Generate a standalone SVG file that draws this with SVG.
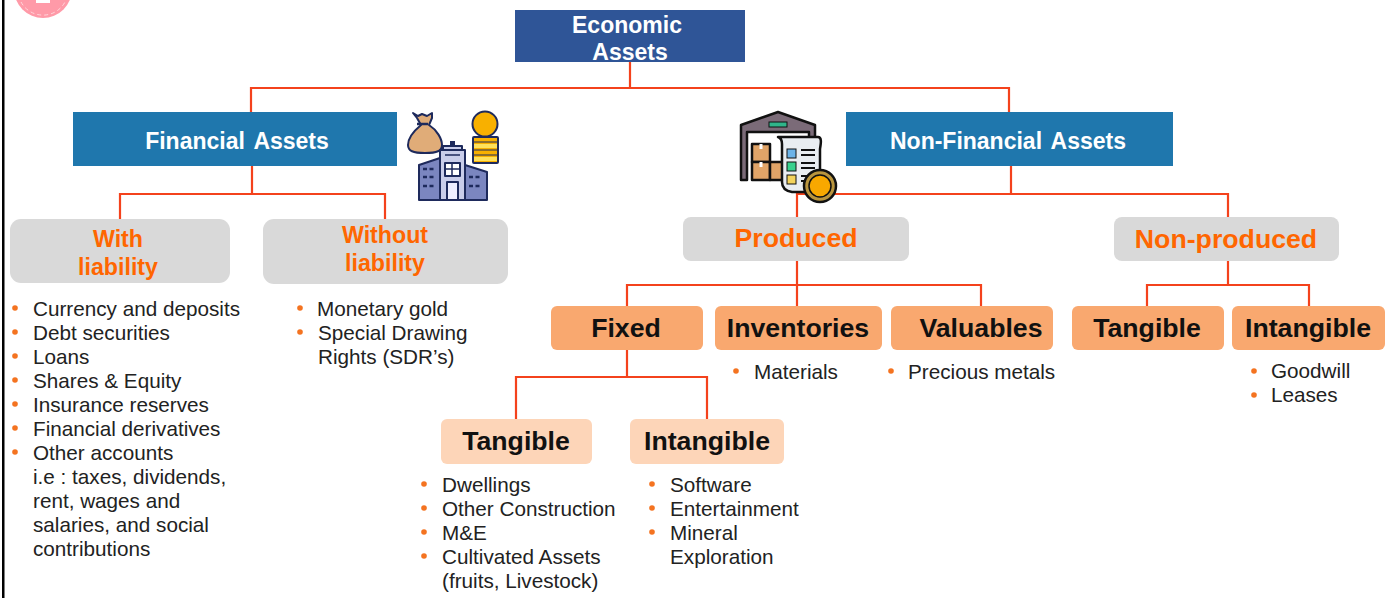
<svg xmlns="http://www.w3.org/2000/svg" width="1385" height="598" viewBox="0 0 1385 598">
<style>
text{font-family:"Liberation Sans",Arial,sans-serif}
.c{fill:none;stroke:#f4421c;stroke-width:2.2}
.t{text-anchor:middle;font-weight:bold}
.w{fill:#fff;font-size:23px}
.o{fill:#ff6600;font-size:23.2px}
.o2{fill:#ff6600;font-size:26.7px}
.k{fill:#111;font-size:26.7px}
.b{fill:#222;font-size:20.7px}
.d{fill:#f47320}
.g{fill:#d9d9d9}
.p{fill:#f9a86f}
.q{fill:#fdd5b8}
.ic{stroke:#1e2a5c;stroke-width:2;stroke-linejoin:round}
.ik{stroke:#111;stroke-width:2.5;stroke-linejoin:round}
</style>
<defs><circle id="d" r="2.8" class="d"/></defs>
<rect x="0" y="0" width="1385" height="598" fill="#fff"/>
<rect x="2" y="0" width="2.5" height="598" fill="#000"/>
<g id="badge"><circle cx="43" cy="-11" r="29" fill="#ff9aa8"/><path d="M21 2A25 25 0 0 0 65 2" fill="none" stroke="#ffd5da" stroke-width="1" stroke-dasharray="4 3"/><rect x="36" y="-4" width="14" height="7" fill="#fff"/></g>
<g id="connectors">
<path class="c" d="M630 62V88M251 112V88H1009V112"/>
<path class="c" d="M252 166V194M120 219V194H385V219"/>
<path class="c" d="M1011 166V194M797 217V194H1228V217"/>
<path class="c" d="M797 261V285M627 306V285H981V306M797 285V306"/>
<path class="c" d="M1228 261V285M1147 306V285H1309V306"/>
<path class="c" d="M627 350V377M516 419V377H707V419"/>
</g>
<g id="economic"><rect x="515" y="10" width="230" height="52" fill="#2f5597"/><text class="t w" x="627" y="33">Economic</text><text class="t w" x="630" y="60">Assets</text></g>
<g id="financial"><rect x="73" y="112" width="324" height="54" fill="#1f77ad"/><text class="t w" x="237" y="148.5" word-spacing="3">Financial Assets</text></g>
<g id="icon-financial">
<path class="ic" fill="#e0ac78" d="M413 113l5 3 4-2 5 2 5-3 0 5-3 7c8 5 13 14 13 20 0 6-5 8-17 8s-17-2-17-8c0-7 7-15 13-20l-4-7z"/>
<path stroke="#1e2a5c" stroke-width="2.5" d="M417 124h11"/>
<circle class="ic" cx="485" cy="124" r="12.5" fill="#f8b000"/>
<rect class="ic" x="473" y="137" width="25" height="26" rx="1" fill="#f8b000"/>
<path d="M474 146h23M474 159h23" stroke="#ffe15c" stroke-width="4"/>
<path stroke="#1e2a5c" d="M474 142h23M474 150h23M474 155h23"/>
<path class="ic" fill="#7b86c0" d="M419 165l21-7v42h-21zM465 165l22 7v28h-22z"/>
<rect class="ic" x="440" y="150" width="25" height="50" fill="#c9cdea"/>
<rect class="ic" x="443" y="146" width="19" height="4" fill="#c9cdea"/>
<rect x="450" y="141" width="5" height="5" fill="#1e2a5c"/>
<rect class="ic" x="445" y="163" width="15" height="13" fill="#fff"/>
<path stroke="#1e2a5c" stroke-width="1.5" d="M452 163v13M445 169h15M445 155h15"/>
<rect class="ic" x="447" y="182" width="11" height="18" fill="#eef"/>
<path stroke="#1e2a5c" stroke-width="2.5" stroke-dasharray="4 2.5" d="M423 169h13M423 177h13M423 186h13M469 177h13M469 186h13"/>
</g>
<g id="nonfinancial"><rect x="846" y="112" width="327" height="54" fill="#1f77ad"/><text class="t w" x="1008" y="148.5" word-spacing="3">Non-Financial Assets</text></g>
<g id="icon-nonfinancial">
<path class="ik" fill="#7b6b78" d="M741 125l37-13 37 13v55h-6V132h-62v48h-6z"/>
<rect x="769" y="122" width="18" height="5" fill="#2fb58a" stroke="#111"/>
<rect class="ik" x="752" y="144" width="18" height="18" fill="#e0a468"/>
<rect class="ik" x="752" y="162" width="18" height="18" fill="#e0a468"/>
<rect class="ik" x="770" y="162" width="16" height="18" fill="#e0a468"/>
<path stroke="#fff" stroke-width="3" d="M761 144v5M761 162v5"/>
<path class="ik" fill="#e9edf1" d="M778 137h40c4 0 3 6 2 12v35c0 4-3 6-8 8h-20c-6-1-10-4-10-10v-38c0-4-1-6-4-7z"/>
<rect x="787" y="149" width="9" height="9" fill="#6cb3e8" stroke="#111"/><rect x="787" y="162" width="9" height="9" fill="#38d18e" stroke="#111"/><rect x="787" y="175" width="9" height="9" fill="#f3d35c" stroke="#111"/>
<path stroke="#111" stroke-width="2" d="M801 150h14M801 155h14M801 163h14M801 168h14M801 176h6M801 181h6"/>
<circle cx="820" cy="186" r="16" fill="#b9953e" stroke="#111" stroke-width="2.5"/><circle cx="820" cy="186" r="11" fill="#f8a800" stroke="#111" stroke-width="1.5"/>
</g>
<g id="with"><rect class="g" x="10" y="219" width="220" height="64" rx="11"/><text class="t o" x="118" y="247">With</text><text class="t o" x="118" y="275">liability</text></g>
<g id="without"><rect class="g" x="263" y="219" width="245" height="65" rx="11"/><text class="t o" x="385" y="243">Without</text><text class="t o" x="385" y="271">liability</text></g>
<g id="produced"><rect class="g" x="683" y="217" width="226" height="44" rx="8"/><text class="t o2" x="796" y="247">Produced</text></g>
<g id="nonproduced"><rect class="g" x="1114" y="217" width="225" height="44" rx="8"/><text class="t o2" x="1226" y="248">Non-produced</text></g>
<g id="fixed"><rect class="p" x="551" y="306" width="152" height="44" rx="6"/><text class="t k" x="626" y="337">Fixed</text></g>
<g id="inventories"><rect class="p" x="715" y="306" width="167" height="44" rx="6"/><text class="t k" x="798" y="337">Inventories</text></g>
<g id="valuables"><rect class="p" x="891" y="306" width="162" height="44" rx="6"/><text class="t k" x="981" y="337">Valuables</text></g>
<g id="tangible-np"><rect class="p" x="1072" y="306" width="152" height="44" rx="6"/><text class="t k" x="1147" y="337">Tangible</text></g>
<g id="intangible-np"><rect class="p" x="1232" y="306" width="153" height="44" rx="6"/><text class="t k" x="1308" y="337">Intangible</text></g>
<g id="tangible-f"><rect class="q" x="441" y="419" width="151" height="45" rx="6"/><text class="t k" x="516" y="450">Tangible</text></g>
<g id="intangible-f"><rect class="q" x="630" y="419" width="154" height="45" rx="6"/><text class="t k" x="707" y="450">Intangible</text></g>
<g id="list-with">
<use href="#d" x="15" y="308"/><use href="#d" x="15" y="332"/><use href="#d" x="15" y="356"/><use href="#d" x="15" y="380"/><use href="#d" x="15" y="404"/><use href="#d" x="15" y="428"/><use href="#d" x="15" y="452"/>
<text class="b" x="33" y="315.5">Currency and deposits</text><text class="b" x="33" y="339.5">Debt securities</text><text class="b" x="33" y="363.5">Loans</text><text class="b" x="33" y="387.5">Shares &amp; Equity</text><text class="b" x="33" y="411.5">Insurance reserves</text><text class="b" x="33" y="435.5">Financial derivatives</text><text class="b" x="33" y="459.5">Other accounts</text><text class="b" x="33" y="483.5">i.e : taxes, dividends,</text><text class="b" x="33" y="507.5">rent, wages and</text><text class="b" x="33" y="531.5">salaries, and social</text><text class="b" x="33" y="555.5">contributions</text>
</g>
<g id="list-without">
<use href="#d" x="300" y="308"/><use href="#d" x="300" y="332"/>
<text class="b" x="317" y="315.5">Monetary gold</text><text class="b" x="318" y="339.5">Special Drawing</text><text class="b" x="318" y="363.5">Rights (SDR’s)</text>
</g>
<g id="list-inventories"><use href="#d" x="736" y="371"/><text class="b" x="754" y="378.5">Materials</text></g>
<g id="list-valuables"><use href="#d" x="891" y="371"/><text class="b" x="908" y="378.5">Precious metals</text></g>
<g id="list-intangible-np"><use href="#d" x="1254" y="371"/><use href="#d" x="1254" y="395"/><text class="b" x="1271" y="378">Goodwill</text><text class="b" x="1271" y="402">Leases</text></g>
<g id="list-tangible-f">
<use href="#d" x="424" y="484"/><use href="#d" x="424" y="508"/><use href="#d" x="424" y="532"/><use href="#d" x="424" y="556"/>
<text class="b" x="442" y="491.5">Dwellings</text><text class="b" x="442" y="515.5">Other Construction</text><text class="b" x="442" y="539.5">M&amp;E</text><text class="b" x="442" y="563.5">Cultivated Assets</text><text class="b" x="442" y="587.5">(fruits, Livestock)</text>
</g>
<g id="list-intangible-f">
<use href="#d" x="652" y="484"/><use href="#d" x="652" y="508"/><use href="#d" x="652" y="532"/>
<text class="b" x="670" y="491.5">Software</text><text class="b" x="670" y="515.5">Entertainment</text><text class="b" x="670" y="539.5">Mineral</text><text class="b" x="670" y="563.5">Exploration</text>
</g>
</svg>
